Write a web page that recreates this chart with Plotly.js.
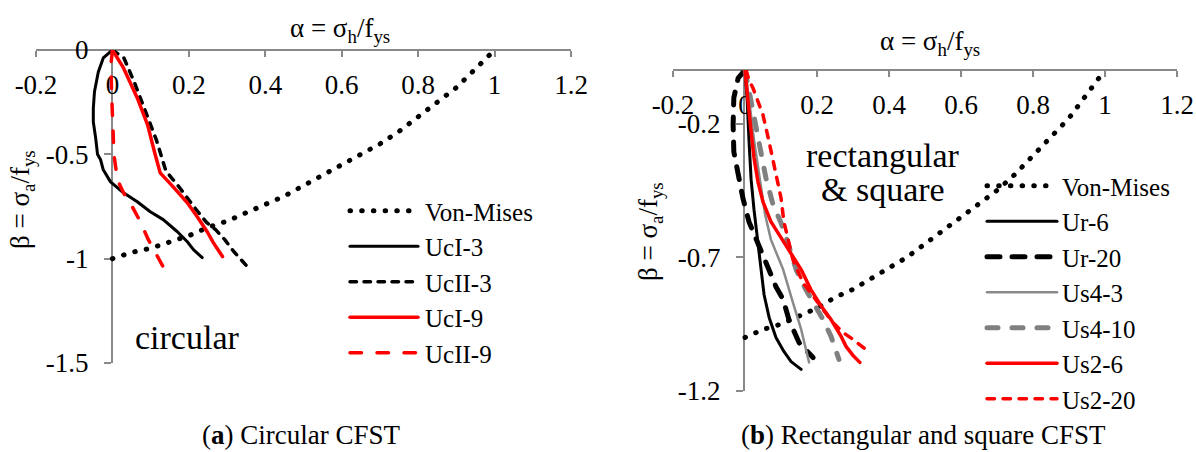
<!DOCTYPE html>
<html>
<head>
<meta charset="utf-8">
<script src="https://cdn.plot.ly/plotly-3.0.1.min.js"></script>
<style>
  html, body { margin: 0; padding: 0; background: #fff; }
  #chart { width: 1196px; height: 452px; }
  .js-line { stroke-linecap: round; stroke-linejoin: round; }
</style>
</head>
<body>
<div id="chart"></div>
<script>
// ---------------- data ----------------
// Von-Mises criterion curve (same in both panels)
const vmAlpha = [0, 0.05, 0.1, 0.15, 0.2, 0.25, 0.3, 0.35, 0.4, 0.45, 0.5, 0.55, 0.6, 0.65, 0.7, 0.75, 0.8, 0.85, 0.9, 0.95, 1.0];
const vmBeta  = [-1.00, -0.97, -0.95, -0.92, -0.89, -0.85, -0.82, -0.78, -0.74, -0.70, -0.65, -0.60, -0.55, -0.50, -0.45, -0.39, -0.32, -0.25, -0.18, -0.09, 0];

// Panel (a) circular CFST
const ucI3Alpha  = [0, -0.024, -0.037, -0.047, -0.050, -0.050, -0.044, -0.039, -0.031, -0.024, -0.005, 0.029, 0.065, 0.099, 0.133, 0.170, 0.196, 0.212, 0.235];
const ucI3Beta   = [0, -0.038, -0.105, -0.200, -0.280, -0.345, -0.420, -0.500, -0.526, -0.574, -0.632, -0.684, -0.727, -0.775, -0.813, -0.871, -0.919, -0.957, -0.995];
const ucII3Alpha = [0, 0.030, 0.057, 0.084, 0.115, 0.140, 0.178, 0.212, 0.246, 0.270, 0.294, 0.318, 0.353];
const ucII3Beta  = [0, -0.038, -0.153, -0.287, -0.431, -0.580, -0.665, -0.748, -0.826, -0.861, -0.909, -0.967, -1.038];
const ucI9Alpha  = [0, 0.029, 0.065, 0.092, 0.112, 0.125, 0.159, 0.196, 0.222, 0.248, 0.264, 0.288];
const ucI9Beta   = [0, -0.086, -0.230, -0.359, -0.502, -0.589, -0.656, -0.732, -0.799, -0.871, -0.923, -0.990];
const ucII9Alpha = [0, -0.004, -0.002, 0.001, 0.004, 0.013, 0.029, 0.052, 0.073, 0.094, 0.118, 0.144];
const ucII9Beta  = [0, -0.072, -0.215, -0.373, -0.502, -0.622, -0.684, -0.751, -0.823, -0.909, -0.990, -1.077];

// Panel (b) rectangular and square CFST
const ur6Alpha   = [0, 0.006, 0.011, 0.017, 0.025, 0.033, 0.042, 0.053, 0.067, 0.086, 0.108, 0.128, 0.156];
const ur6Beta    = [0, -0.112, -0.261, -0.410, -0.522, -0.616, -0.728, -0.840, -0.925, -1.000, -1.052, -1.090, -1.119];
const ur20Alpha  = [0, -0.019, -0.031, -0.033, -0.031, -0.019, -0.006, 0.011, 0.031, 0.050, 0.067, 0.086, 0.106, 0.122, 0.150, 0.189];
const ur20Beta   = [0, -0.030, -0.104, -0.205, -0.306, -0.392, -0.478, -0.567, -0.634, -0.701, -0.757, -0.810, -0.858, -0.933, -1.019, -1.075];
const us43Alpha  = [0, 0.011, 0.025, 0.039, 0.056, 0.072, 0.106, 0.133, 0.156, 0.178];
const us43Beta   = [0, -0.104, -0.261, -0.392, -0.541, -0.634, -0.746, -0.869, -0.970, -1.093];
const us410Alpha = [0, 0.008, 0.022, 0.039, 0.058, 0.078, 0.100, 0.119, 0.142, 0.169, 0.197, 0.217, 0.239, 0.261];
const us410Beta  = [0, -0.056, -0.168, -0.291, -0.403, -0.504, -0.571, -0.646, -0.746, -0.821, -0.884, -0.933, -0.996, -1.082];
const us26Alpha  = [0, 0.003, 0.008, 0.017, 0.025, 0.036, 0.050, 0.072, 0.100, 0.128, 0.156, 0.183, 0.211, 0.239, 0.267, 0.281, 0.300, 0.319];
const us26Beta   = [0, -0.056, -0.112, -0.231, -0.328, -0.418, -0.493, -0.567, -0.627, -0.687, -0.746, -0.821, -0.881, -0.933, -0.996, -1.034, -1.067, -1.093];
const us220Alpha = [0.003, 0.011, 0.022, 0.050, 0.067, 0.086, 0.100, 0.108, 0.119, 0.133, 0.161, 0.189, 0.217, 0.244, 0.272, 0.300, 0.342];
const us220Beta  = [0, -0.037, -0.067, -0.168, -0.269, -0.381, -0.478, -0.567, -0.634, -0.709, -0.795, -0.847, -0.896, -0.944, -0.981, -1.007, -1.052];

// tick labels
const xTickVals = [-0.2, 0, 0.2, 0.4, 0.6, 0.8, 1, 1.2];
const xTickText = ['-0.2', '0', '0.2', '0.4', '0.6', '0.8', '1', '1.2'];
const yTickValsA = [0, -0.5, -1, -1.5];
const yTickTextA = ['0', '-0.5', '-1', '-1.5'];
const yTickValsB = [-0.2, -0.7, -1.2];
const yTickTextB = ['-0.2', '-0.7', '-1.2'];

// ---------------- drawing ----------------
const W = 1196, H = 452;
const px = v => v / W;
const py = v => 1 - v / H;
const FONT = 'Liberation Serif';
const AX = '#898989';

function tr(name, x, y, xa, ya, leg, color, width, dash) {
  return { type: 'scatter', mode: 'lines', name: name, x: x, y: y, xaxis: xa, yaxis: ya,
           legend: leg, line: { color: color, width: width, dash: dash }, hoverinfo: 'skip' };
}
const VMDASH = '0.5px,11.2px';
const data = [
  tr('Von-Mises', vmAlpha, vmBeta, 'x', 'y', 'legend', '#000', 5, VMDASH),
  tr('UcI-3', ucI3Alpha, ucI3Beta, 'x', 'y', 'legend', '#000', 3, 'solid'),
  tr('UcII-3', ucII3Alpha, ucII3Beta, 'x', 'y', 'legend', '#000', 3.5, '6.5px,7.5px'),
  tr('UcI-9', ucI9Alpha, ucI9Beta, 'x', 'y', 'legend', '#ff0000', 3.5, 'solid'),
  tr('UcII-9', ucII9Alpha, ucII9Beta, 'x', 'y', 'legend', '#ff0000', 3.5, '11.5px,15.5px'),

  tr('Von-Mises', vmAlpha, vmBeta, 'x2', 'y2', 'legend2', '#000', 5, VMDASH),
  tr('Ur-6', ur6Alpha, ur6Beta, 'x2', 'y2', 'legend2', '#000', 3, 'solid'),
  tr('Ur-20', ur20Alpha, ur20Beta, 'x2', 'y2', 'legend2', '#000', 5, '13px,12px'),
  tr('Us4-3', us43Alpha, us43Beta, 'x2', 'y2', 'legend2', '#8a8a8a', 2.5, 'solid'),
  tr('Us4-10', us410Alpha, us410Beta, 'x2', 'y2', 'legend2', '#808080', 5, '11px,14px'),
  tr('Us2-6', us26Alpha, us26Beta, 'x2', 'y2', 'legend2', '#ff0000', 3.5, 'solid'),
  tr('Us2-20', us220Alpha, us220Beta, 'x2', 'y2', 'legend2', '#ff0000', 3.5, '7.5px,8.5px')
];

function xAxis(domain, pos) {
  return { domain: domain, range: [-0.2, 1.2], anchor: 'free', position: pos, side: 'bottom',
    tickmode: 'array', tickvals: xTickVals, ticktext: xTickText, layer: 'below traces',
    ticks: 'outside', ticklen: 6, tickwidth: 2, tickcolor: AX, ticklabelstandoff: 5,
    showline: true, linecolor: AX, linewidth: 2, showgrid: false, zeroline: false,
    tickfont: { size: 27, color: '#000', family: FONT }, fixedrange: true };
}
function yAxis(domain, range, pos, vals, text) {
  return { domain: domain, range: range, anchor: 'free', position: pos, side: 'left',
    tickmode: 'array', tickvals: vals, ticktext: text, layer: 'below traces',
    ticks: 'outside', ticklen: 7, tickwidth: 2, tickcolor: AX, ticklabelstandoff: 10,
    showline: true, linecolor: AX, linewidth: 2, showgrid: false, zeroline: false,
    tickfont: { size: 27, color: '#000', family: FONT }, fixedrange: true };
}
function ann(text, x, y, size, angle) {
  return { text: text, xref: 'paper', yref: 'paper', x: px(x), y: py(y), xanchor: 'center', yanchor: 'middle',
    showarrow: false, textangle: angle || 0, font: { size: size, color: '#000', family: FONT } };
}
function legendAt(x, y) {
  return { x: px(x), y: py(y), xanchor: 'left', yanchor: 'top', bgcolor: 'rgba(0,0,0,0)',
    borderwidth: 0, itemwidth: 70, tracegroupgap: 0, itemclick: false, itemdoubleclick: false,
    font: { size: 25, color: '#000', family: FONT } };
}

const layout = {
  width: W, height: H,
  margin: { l: 0, r: 0, t: 0, b: 0, pad: 0 },
  paper_bgcolor: '#fff', plot_bgcolor: 'rgba(0,0,0,0)',
  font: { family: FONT, color: '#000', size: 27 },
  showlegend: true,
  xaxis: xAxis([px(36), px(571)], py(50)),
  yaxis: yAxis([py(363), py(50)], [-1.5, 0], px(112), yTickValsA, yTickTextA),
  xaxis2: xAxis([px(673), px(1177)], py(70)),
  yaxis2: yAxis([py(391), py(70)], [-1.2, 0], px(744), yTickValsB, yTickTextB),
  legend: legendAt(345, 188),
  legend2: legendAt(982, 163),
  annotations: [
    ann('α = σ<sub>h</sub>/f<sub>ys</sub>', 340, 30, 27),
    ann('α = σ<sub>h</sub>/f<sub>ys</sub>', 930, 43, 27),
    ann('β = σ<sub>a</sub>/f<sub>ys</sub>', 22, 200, 27, -90),
    ann('β = σ<sub>a</sub>/f<sub>ys</sub>', 650, 232, 27, -90),
    ann('circular', 187, 337, 34),
    ann('rectangular', 883, 155, 34),
    ann('&amp; square', 883, 189, 34),
    ann('(<b>a</b>) Circular CFST', 301, 435, 27),
    ann('(<b>b</b>) Rectangular and square CFST', 923, 435, 27)
  ]
};

Plotly.newPlot('chart', data, layout, { staticPlot: true, displayModeBar: false }).then(function (gd) {
  // longer legend line samples, as in the original
  gd.querySelectorAll('.legend .legendlines path').forEach(function (p) {
    p.setAttribute('d', 'M5,0h68');
  });
});
</script>
</body>
</html>
